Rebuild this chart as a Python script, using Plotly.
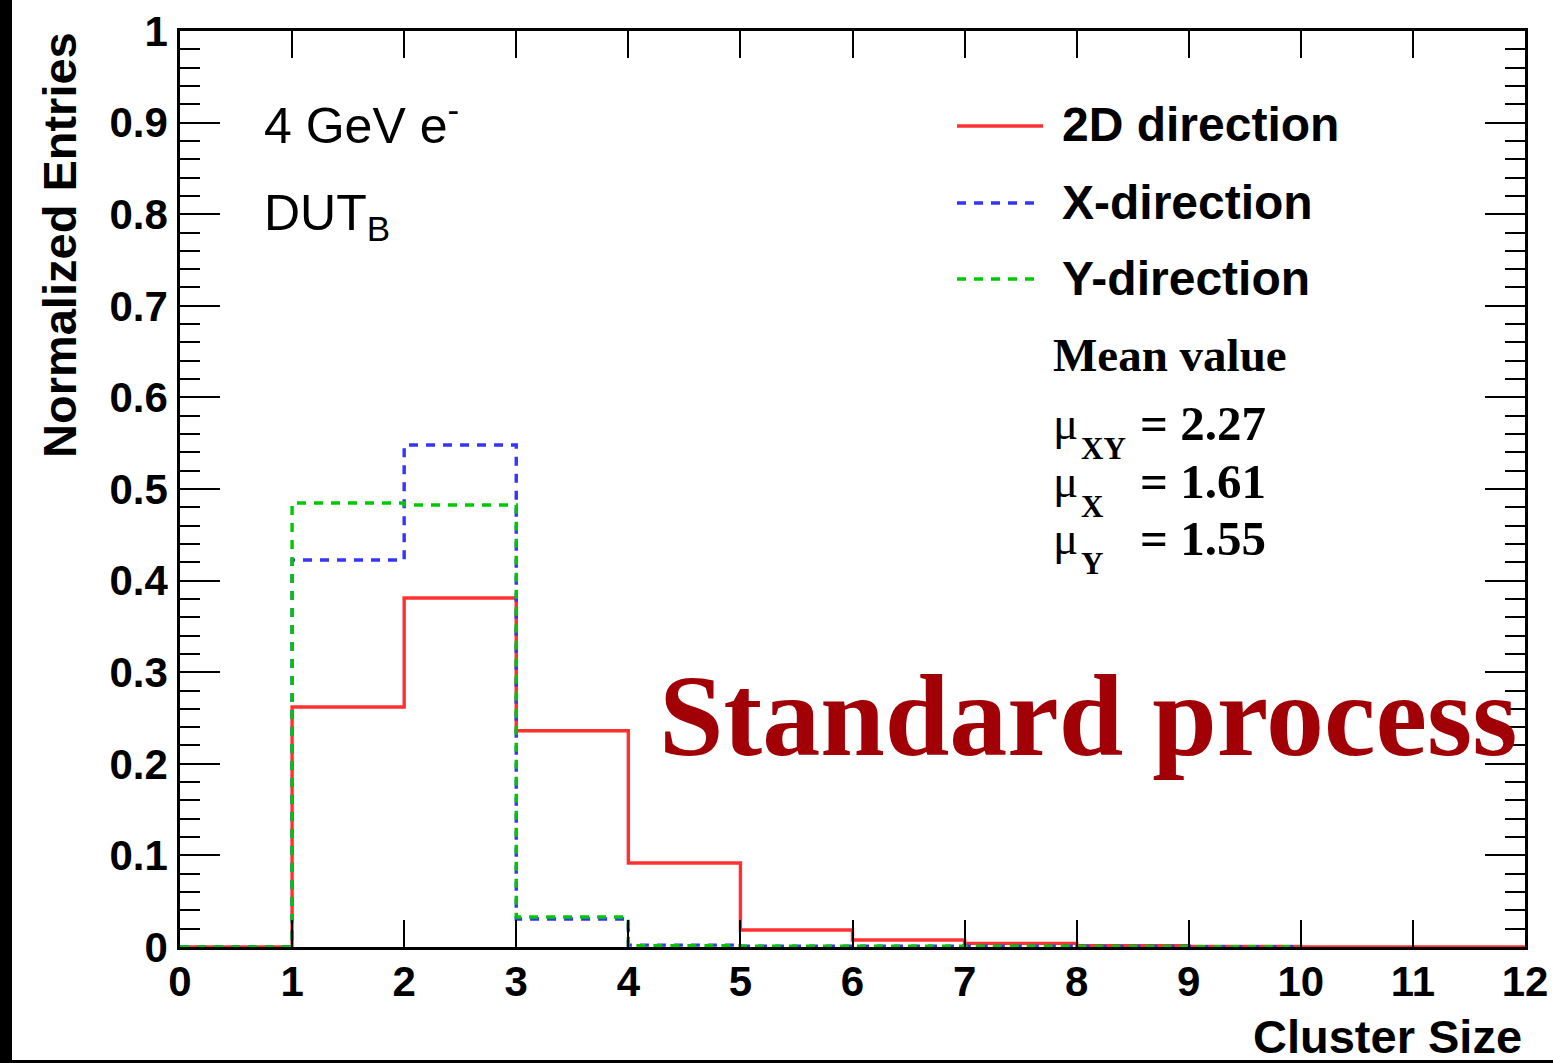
import plotly.graph_objects as go

# Cluster-size histograms (bin i covers [i, i+1))
edges_2d = list(range(13))
vals_2d = [0.0, 0.262, 0.381, 0.236, 0.0917, 0.0186, 0.0076, 0.004, 0.0015, 0.0005, 0.0, 0.0]
edges_xy = list(range(11))
vals_x = [0.0, 0.4225, 0.548, 0.0306, 0.002, 0.001, 0.001, 0.0008, 0.0005, 0.0003]
vals_y = [0.0, 0.4847, 0.4825, 0.0328, 0.0015, 0.001, 0.001, 0.0008, 0.0005, 0.0003]

series_names = ["2D direction", "X-direction", "Y-direction"]
mean_labels = ["XY", "X", "Y"]
mean_values = [2.27, 1.61, 1.55]
x_ticks = list(range(13))

RED = "#ff3030"
BLUE = "#3434ff"
GREEN = "#00c800"

W, H = 1553, 1063
L, R, T, B = 180, 28, 31, 116
PW, PH = W - L - R, H - T - B


def xp(px):
    return (px - L) / PW


def yp(py):
    return (T + PH - py) / PH


def step(edges, vals):
    return edges[:-1] + [edges[-1]], vals + [vals[-1]]


fig = go.Figure()
for (edges, vals), color, dash in [
    ((edges_2d, vals_2d), RED, "solid"),
    ((edges_xy, vals_x), BLUE, "9px,8px"),
    ((edges_xy, vals_y), GREEN, "9px,8px"),
]:
    xs, ys = step(edges, vals)
    fig.add_trace(go.Scatter(x=xs, y=ys, mode="lines", line_shape="hv",
                             line=dict(color=color, width=3.4, dash=dash),
                             showlegend=False, hoverinfo="skip", cliponaxis=False))

SANS = "Liberation Sans"
SERIF = "Liberation Serif"

fig.update_layout(
    width=W, height=H,
    margin=dict(l=L, r=R, t=T, b=B, pad=0),
    paper_bgcolor="white", plot_bgcolor="white",
    showlegend=False,
    xaxis=dict(range=[0, 12], tickvals=x_ticks, ticktext=[str(v) for v in x_ticks],
               ticks="inside", ticklen=27, tickwidth=2, tickcolor="black",
               showline=True, linewidth=2.5, linecolor="black", mirror="ticks",
               showgrid=False, zeroline=False, automargin=False,
               tickfont=dict(family=SANS, size=42, color="black", weight="bold"),
               ticklabelstandoff=-4),
    yaxis=dict(range=[0, 1], dtick=0.1, tick0=0,
               ticks="inside", ticklen=40, tickwidth=2, tickcolor="black",
               showline=True, linewidth=2.5, linecolor="black", mirror="ticks",
               showgrid=False, zeroline=False, automargin=False,
               minor=dict(dtick=0.02, ticks="inside", ticklen=20, tickwidth=2, tickcolor="black", showgrid=False),
               tickfont=dict(family=SANS, size=42, color="black", weight="bold"),
               ticklabelstandoff=1),
)

ann = []


def text(px, py, s, size, family=SANS, bold=False, color="black", xa="left", ya="middle", angle=0):
    ann.append(dict(x=xp(px), y=yp(py), xref="paper", yref="paper", text=s, showarrow=False,
                    xanchor=xa, yanchor=ya, textangle=angle,
                    font=dict(family=family, size=size, color=color, weight="bold" if bold else "normal")))


# axis titles
text(59, 30, "Normalized Entries", 47, bold=True, xa="center", ya="top", angle=-90)
text(1524, 1036, "Cluster Size", 47, bold=True, xa="right")

# beam / device labels
text(262, 122, "4 GeV e<sup>-</sup>", 50)
text(262, 217, "DUT<sub>B</sub>", 50)

# legend
leg_y = [126, 203, 279]
leg_colors = [RED, BLUE, GREEN]
leg_dash = ["solid", "9px,8px", "9px,8px"]
leg_end = [1043, 1035, 1035]
shapes = []
for name, y, c, d, xe in zip(series_names, leg_y, leg_colors, leg_dash, leg_end):
    shapes.append(dict(type="line", xref="paper", yref="paper", x0=xp(957), x1=xp(xe),
                       y0=yp(y), y1=yp(y), line=dict(color=c, width=3.4, dash=d)))
    text(1060, y - 1, name, 48, bold=True)

# mean values
text(1051, 355, "Mean value", 47, family=SERIF, bold=True)
mu_y = [423, 481, 538]
for lab, val, y in zip(mean_labels, mean_values, mu_y):
    text(1051, y, "\u03bc", 47, family=SERIF)
    text(1079, y + 25, lab, 31, family=SERIF, bold=True)
    text(1138, y, f"= {val:.2f}", 49, family=SERIF, bold=True)

text(1519, 716, "Standard process", 116, family=SERIF, bold=True, color="#a10006", xa="right")

# page frame on the left and bottom edges
shapes.append(dict(type="rect", xref="paper", yref="paper", x0=xp(0), x1=xp(12), y0=yp(H), y1=yp(0),
                   fillcolor="black", line=dict(width=0), layer="above"))
shapes.append(dict(type="rect", xref="paper", yref="paper", x0=xp(0), x1=xp(W), y0=yp(H), y1=yp(1060),
                   fillcolor="black", line=dict(width=0), layer="above"))

fig.update_layout(annotations=ann, shapes=shapes)
fig.write_html("out.html")
